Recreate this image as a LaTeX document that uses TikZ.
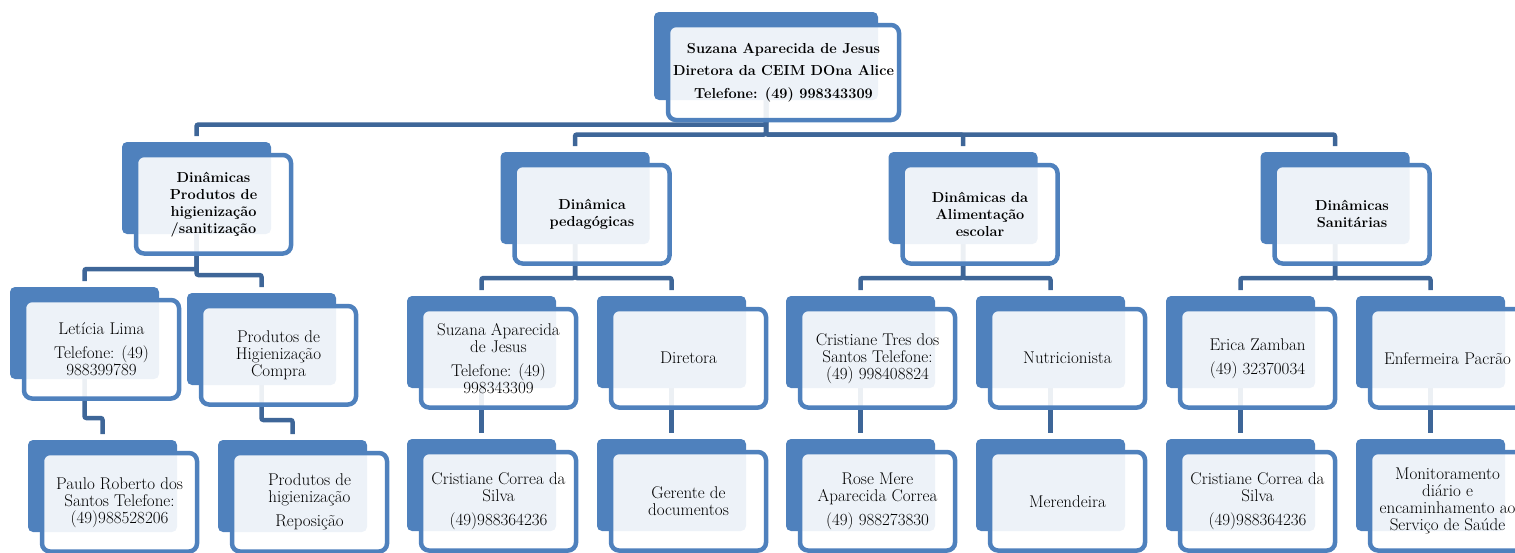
\documentclass[tikz,border=0pt]{standalone}
\usepackage{fontspec}
\usetikzlibrary{calc}
\pgfdeclarelayer{bg}
\pgfsetlayers{bg,main}
\definecolor{accent}{RGB}{79,129,189}
\definecolor{connc}{RGB}{62,102,152}
\tikzset{
  backbox/.style={rectangle, fill=accent, rounded corners=5pt, minimum width=149pt, minimum height=92pt, inner sep=0pt, outer sep=0pt, anchor=north west},
  frontbox/.style={rectangle, draw=accent, line width=4.5pt, fill=white, fill opacity=0.9, text opacity=1, rounded corners=8pt, minimum width=155pt, minimum height=98.5pt, inner sep=0pt, outer sep=0pt, align=center, anchor=north west},
  headtxt/.style={font=\fontsize{14.5}{17}\selectfont\bfseries},
  bodytxt/.style={font=\fontsize{17}{17}\selectfont},
  link/.style={draw=connc, line width=4.5pt, rounded corners=2pt, shorten >=6pt},
}
\newcommand{\obox}[5]{%
  \node[backbox] (#1b) at (#2,#3) {};
  \node[frontbox, #4] (#1) at ($(#1b.north west)+(14,13)$) {#5};
}
\begin{document}
\begin{tikzpicture}[x=1pt, y=-1pt]
\useasboundingbox (0,0) rectangle (1515,552);
\clip (0,0) rectangle (1515,552);
% top
\node[backbox, minimum width=224pt, minimum height=88pt] (topb) at (654,12) {};
\node[frontbox, minimum width=231pt, minimum height=95pt, font=\fontsize{14.5}{22.5}\selectfont\bfseries] (top) at ($(topb.north west)+(14,13)$) {Suzana Aparecida de Jesus\\Diretora da CEIM DOna Alice\\Telefone: (49) 998343309};
% level 1
\obox{A}{122}{142}{headtxt}{Dinâmicas\\Produtos de\\higienização\\/sanitização}
\obox{B}{500.5}{152}{headtxt}{Dinâmica\\pedagógicas}
\obox{C}{888.5}{152}{headtxt}{Dinâmicas da\\Alimentação\\escolar}
\obox{D}{1260.5}{152}{headtxt}{Dinâmicas\\Sanitárias}
% level 2
\obox{A1}{10}{287}{bodytxt}{Letícia Lima\\[7pt]Telefone: (49)\\988399789}
\obox{A2}{187}{293}{bodytxt}{Produtos de\\Higienização\\Compra}
\obox{B1}{407}{296}{bodytxt}{Suzana Aparecida\\de Jesus\\[7pt]Telefone: (49)\\998343309}
\obox{B2}{597}{296}{bodytxt}{Diretora}
\obox{C1}{786}{296}{bodytxt}{Cristiane Tres dos\\Santos Telefone:\\(49) 998408824}
\obox{C2}{976}{296}{bodytxt}{Nutricionista}
\obox{D1}{1166}{296}{bodytxt}{Erica Zamban\\[7pt](49) 32370034}
\obox{D2}{1356}{296}{bodytxt}{Enfermeira Pacrão}
% level 3
\obox{A1c}{28}{440}{bodytxt}{Paulo Roberto dos\\Santos Telefone:\\(49)988528206}
\obox{A2c}{218}{440}{bodytxt}{Produtos de\\higienização\\[7pt]Reposição}
\obox{B1c}{407}{439}{bodytxt}{Cristiane Correa da\\Silva\\[7pt](49)988364236}
\obox{B2c}{597}{439}{bodytxt}{Gerente de\\documentos}
\obox{C1c}{786}{439}{bodytxt}{Rose Mere\\Aparecida Correa\\[7pt](49) 988273830}
\obox{C2c}{976}{439}{bodytxt}{Merendeira}
\obox{D1c}{1166}{439}{bodytxt}{Cristiane Correa da\\Silva\\[7pt](49)988364236}
\obox{D2c}{1356}{439}{bodytxt}{Monitoramento\\diário e\\encaminhamento ao\\Serviço de Saúde}
% connectors
\begin{pgfonlayer}{bg}
\draw[link] (topb.south) -- ++(0,24.5) -| (Ab.north);
\draw[link] (topb.south) -- ++(0,34.5) -| (Bb.north);
\draw[link] (topb.south) -- ++(0,34.5) -| (Cb.north);
\draw[link] (topb.south) -- ++(0,34.5) -| (Db.north);
\draw[link] (Ab.south) -- ++(0,35) -| (A1b.north);
\draw[link] (Ab.south) -- ++(0,41) -| (A2b.north);
\draw[link] (Bb.south) -- ++(0,34) -| (B1b.north);
\draw[link] (Bb.south) -- ++(0,34) -| (B2b.north);
\draw[link] (Cb.south) -- ++(0,34) -| (C1b.north);
\draw[link] (Cb.south) -- ++(0,34) -| (C2b.north);
\draw[link] (Db.south) -- ++(0,34) -| (D1b.north);
\draw[link] (Db.south) -- ++(0,34) -| (D2b.north);
\draw[link] (A1b.south) -- ++(0,39) -| (A1cb.north);
\draw[link] (A2b.south) -- ++(0,35) -| (A2cb.north);
\draw[link] (B1b.south) -- (B1cb.north);
\draw[link] (B2b.south) -- (B2cb.north);
\draw[link] (C1b.south) -- (C1cb.north);
\draw[link] (C2b.south) -- (C2cb.north);
\draw[link] (D1b.south) -- (D1cb.north);
\draw[link] (D2b.south) -- (D2cb.north);
\end{pgfonlayer}
\end{tikzpicture}
\end{document}
